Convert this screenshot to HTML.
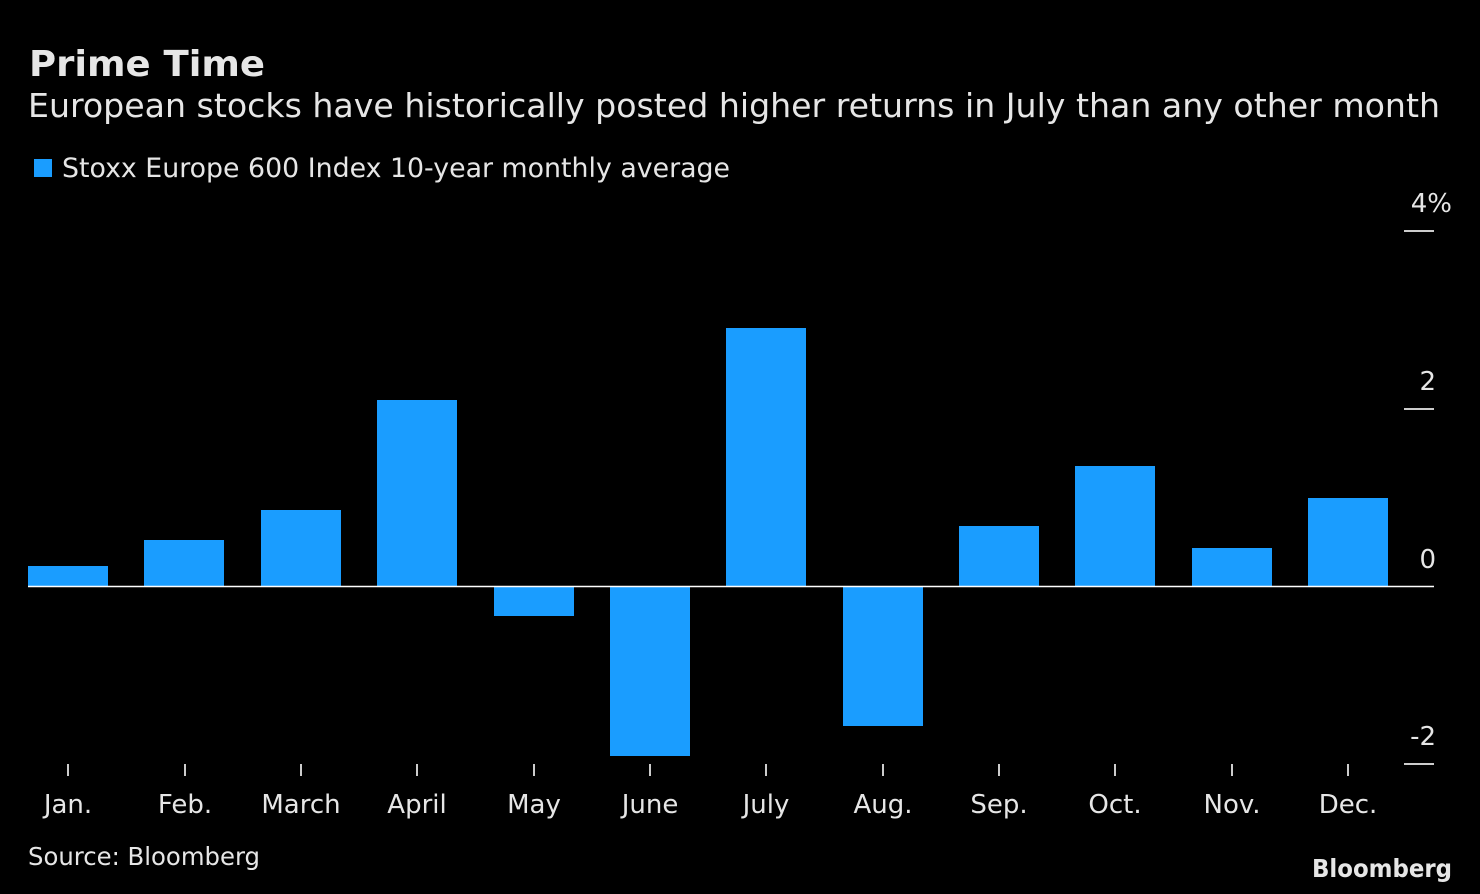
<!DOCTYPE html>
<html><head><meta charset="utf-8"><style>
html,body{margin:0;padding:0;background:#000;}
svg{display:block}
text{font-family:"DejaVu Sans","Liberation Sans",sans-serif;fill:#e6e6e6}
</style></head><body>
<svg width="1480" height="894" viewBox="0 0 1480 894" xmlns="http://www.w3.org/2000/svg">
<rect width="1480" height="894" fill="#000"/>
<text x="29" y="76" font-size="36" font-weight="bold" fill="#fff" textLength="236" lengthAdjust="spacingAndGlyphs">Prime Time</text>
<text x="28" y="117" font-size="33" fill="#f0f0f0" textLength="1412" lengthAdjust="spacingAndGlyphs">European stocks have historically posted higher returns in July than any other month</text>
<rect x="34" y="159" width="18" height="18" fill="#1a9dff"/>
<text x="62" y="177" font-size="27" fill="#d0d0d0" textLength="668" lengthAdjust="spacingAndGlyphs">Stoxx Europe 600 Index 10-year monthly average</text>
<g fill="#1a9dff">
<rect x="28" y="566" width="80" height="20"/>
<rect x="144" y="540" width="80" height="46"/>
<rect x="261" y="510" width="80" height="76"/>
<rect x="377" y="400" width="80" height="186"/>
<rect x="494" y="586" width="80" height="30"/>
<rect x="610" y="586" width="80" height="170"/>
<rect x="726" y="328" width="80" height="258"/>
<rect x="843" y="586" width="80" height="140"/>
<rect x="959" y="526" width="80" height="60"/>
<rect x="1075" y="466" width="80" height="120"/>
<rect x="1192" y="548" width="80" height="38"/>
<rect x="1308" y="498" width="80" height="88"/>
</g>
<line x1="28" y1="586.5" x2="1434" y2="586.5" stroke="#fff" stroke-width="1.5"/>
<g stroke="#ccc" stroke-width="2">
<line x1="1404" y1="231" x2="1434" y2="231"/>
<line x1="1404" y1="409" x2="1434" y2="409"/>
<line x1="1404" y1="764" x2="1434" y2="764"/>
<line x1="68" y1="764" x2="68" y2="776"/><line x1="185" y1="764" x2="185" y2="776"/>
<line x1="301" y1="764" x2="301" y2="776"/><line x1="417" y1="764" x2="417" y2="776"/>
<line x1="534" y1="764" x2="534" y2="776"/><line x1="650" y1="764" x2="650" y2="776"/>
<line x1="766" y1="764" x2="766" y2="776"/><line x1="883" y1="764" x2="883" y2="776"/>
<line x1="999" y1="764" x2="999" y2="776"/><line x1="1115" y1="764" x2="1115" y2="776"/>
<line x1="1232" y1="764" x2="1232" y2="776"/><line x1="1348" y1="764" x2="1348" y2="776"/>
</g>
<g font-size="26" text-anchor="end" fill="#ccc">
<text x="1452" y="212">4%</text>
<text x="1436" y="390">2</text>
<text x="1436" y="568">0</text>
<text x="1436" y="745">-2</text>
</g>
<g font-size="26" text-anchor="middle" fill="#ccc">
<text x="68" y="813">Jan.</text><text x="185" y="813">Feb.</text>
<text x="301" y="813">March</text><text x="417" y="813">April</text>
<text x="534" y="813">May</text><text x="650" y="813">June</text>
<text x="766" y="813">July</text><text x="883" y="813">Aug.</text>
<text x="999" y="813">Sep.</text><text x="1115" y="813">Oct.</text>
<text x="1232" y="813">Nov.</text><text x="1348" y="813">Dec.</text>
</g>
<text x="28" y="865" font-size="25" fill="#bbb" textLength="232" lengthAdjust="spacingAndGlyphs">Source: Bloomberg</text>
<text x="1452" y="877" font-size="25" font-weight="bold" text-anchor="end" fill="#ddd" textLength="140" lengthAdjust="spacingAndGlyphs">Bloomberg</text>
</svg>
</body></html>
